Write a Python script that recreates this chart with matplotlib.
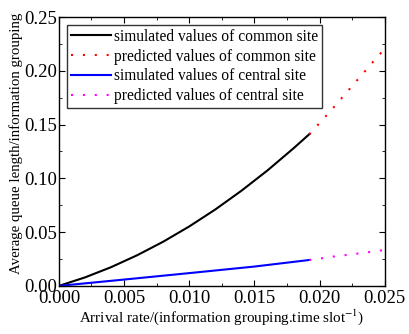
import matplotlib
matplotlib.use('Agg')
import matplotlib.pyplot as plt
from matplotlib.ticker import MultipleLocator, FormatStrFormatter

plt.rcParams["font.family"] = "Liberation Serif"
plt.rcParams["font.size"] = 10
plt.rcParams["mathtext.fontset"] = "stix"

# values
x_sim_common = [0, 0.002, 0.004, 0.006, 0.008, 0.010, 0.012, 0.014, 0.016, 0.018, 0.0192]
y_sim_common = [0, 0.0079, 0.0174, 0.0285, 0.0411, 0.0553, 0.0711, 0.0885, 0.1074, 0.128, 0.141]
x_pred_common = [0.0192, 0.020, 0.021, 0.022, 0.023, 0.024, 0.0248]
y_pred_common = [0.141, 0.1515, 0.165, 0.179, 0.193, 0.207, 0.218]
x_sim_central = [0, 0.005, 0.010, 0.015, 0.0192]
y_sim_central = [0, 0.0059, 0.0119, 0.0180, 0.0241]
x_pred_central = [0.0192, 0.020, 0.021, 0.022, 0.023, 0.024, 0.0248]
y_pred_central = [0.0241, 0.0254, 0.0272, 0.0287, 0.0302, 0.0318, 0.0331]

fig = plt.figure(figsize=(4.09, 3.34), dpi=100)
ax = fig.add_axes([0.144, 0.144, 0.797, 0.805])

dots = (0, (1, 4.7))
ax.plot(x_sim_common, y_sim_common, color='k', lw=1.5, label='simulated values of common site')
ax.plot(x_pred_common, y_pred_common, color='red', lw=1.5, linestyle=dots,
        dash_capstyle='butt', label='predicted values of common site')
ax.plot(x_sim_central, y_sim_central, color='blue', lw=1.5, label='simulated values of central site')
ax.plot(x_pred_central, y_pred_central, color='magenta', lw=1.5, linestyle=dots,
        dash_capstyle='butt', label='predicted values of central site')

ax.set_xlim(0, 0.025)
ax.set_ylim(0, 0.25)
ax.xaxis.set_major_locator(MultipleLocator(0.005))
ax.xaxis.set_minor_locator(MultipleLocator(0.0025))
ax.yaxis.set_major_locator(MultipleLocator(0.05))
ax.yaxis.set_minor_locator(MultipleLocator(0.025))
ax.xaxis.set_major_formatter(FormatStrFormatter('%.3f'))
ax.yaxis.set_major_formatter(FormatStrFormatter('%.2f'))
ax.tick_params(which='both', direction='in', top=True, right=True, labelsize=13.5)
ax.tick_params(axis='x', pad=3)
ax.tick_params(axis='y', pad=1)
ax.tick_params(which='major', length=4)
ax.tick_params(which='minor', length=2)
for s in ax.spines.values():
    s.set_linewidth(1.0)

ax.set_xlabel('Arrival rate/(information grouping.time slot$^{-1}$)', fontsize=10.9, labelpad=0.5)
ax.set_ylabel('Average queue length/information grouping', fontsize=10.7)
ax.yaxis.set_label_coords(-0.11, 0.53)

leg = ax.legend(loc='upper left', fontsize=11.2, handlelength=2.6, frameon=True,
                fancybox=False, edgecolor='k', borderpad=0.25, labelspacing=0.25,
                handletextpad=0.2, borderaxespad=0.5)
leg.get_frame().set_linewidth(1.0)

plt.savefig('out.png', dpi=100)
